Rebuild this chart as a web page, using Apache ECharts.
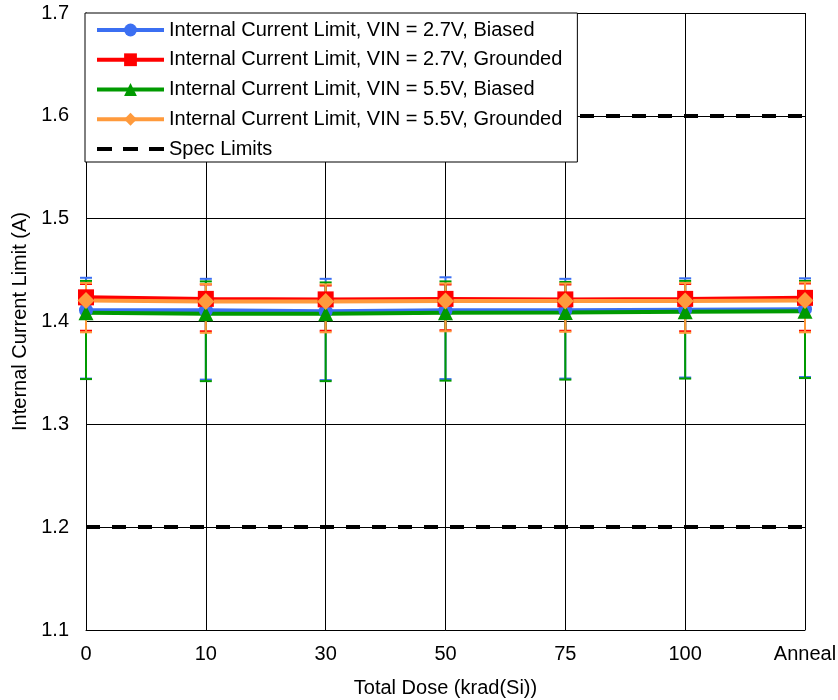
<!DOCTYPE html>
<html><head><meta charset="utf-8">
<script src="https://cdn.jsdelivr.net/npm/echarts@6/dist/echarts.min.js"></script>
<style>html,body{margin:0;padding:0;background:#fff}#c{width:838px;height:700px}</style>
</head><body><div id="c"></div>
<script>
const categories = ['0', '10', '30', '50', '75', '100', 'Anneal'];
const yTicks = [1.1, 1.2, 1.3, 1.4, 1.5, 1.6, 1.7];
const specLimits = [1.2, 1.6];

const blueVals   = [1.411, 1.411, 1.410, 1.411, 1.411, 1.4115, 1.412];
const redVals    = [1.4235, 1.422, 1.4215, 1.422, 1.4215, 1.422, 1.423];
const greenVals  = [1.4085, 1.4075, 1.4075, 1.4085, 1.4088, 1.4095, 1.410];
const orangeVals = [1.4205, 1.4195, 1.4195, 1.420, 1.420, 1.420, 1.4205];

const blueHigh   = [1.4425, 1.4415, 1.4415, 1.443, 1.4415, 1.442, 1.442];
const blueLow    = [1.3445, 1.3435, 1.343, 1.344, 1.3445, 1.3455, 1.346];
const redHigh    = [1.4365, 1.436, 1.435, 1.436, 1.436, 1.4365, 1.437];
const redLow     = [1.391, 1.3905, 1.391, 1.3915, 1.391, 1.3905, 1.391];
const greenHigh  = [1.4395, 1.439, 1.438, 1.439, 1.4385, 1.4395, 1.4395];
const greenLow   = [1.344, 1.342, 1.342, 1.3425, 1.3435, 1.3445, 1.345];
const orangeHigh = [1.4375, 1.4365, 1.436, 1.437, 1.437, 1.4375, 1.438];
const orangeLow  = [1.3895, 1.389, 1.3895, 1.3905, 1.39, 1.389, 1.3895];

const names = [
  'Internal Current Limit, VIN = 2.7V, Biased',
  'Internal Current Limit, VIN = 2.7V, Grounded',
  'Internal Current Limit, VIN = 5.5V, Biased',
  'Internal Current Limit, VIN = 5.5V, Grounded'
];
const colors = ['#3b6ff2', '#ff0000', '#009a00', '#ff9a3c'];
const symbols = ['circle', 'rect', 'triangle', 'diamond'];
const symbolSizes = [14, 16, 15, 17];
const vals = [blueVals, redVals, greenVals, orangeVals];
const highs = [blueHigh, redHigh, greenHigh, orangeHigh];
const lows = [blueLow, redLow, greenLow, orangeLow];

const FONT = 'Arial, "Liberation Sans", sans-serif';

const series = [];
// Error bars
for (let s = 0; s < 4; s++) {
  series.push({
    type: 'custom',
    name: names[s] + ' err',
    z: 1,
    clip: false,
    silent: true,
    data: categories.map((c, i) => [i, highs[s][i], lows[s][i]]),
    encode: { x: 0, y: [1, 2] },
    renderItem: function (params, api) {
      const hi = api.coord([api.value(0), api.value(1)]);
      const lo = api.coord([api.value(0), api.value(2)]);
      const hw = 6;
      const st = { stroke: colors[s], lineWidth: 2 };
      return {
        type: 'group',
        children: [
          { type: 'line', shape: { x1: hi[0], y1: hi[1], x2: lo[0], y2: lo[1] }, style: st },
          { type: 'line', shape: { x1: hi[0] - hw, y1: hi[1], x2: hi[0] + hw, y2: hi[1] }, style: st },
          { type: 'line', shape: { x1: lo[0] - hw, y1: lo[1], x2: lo[0] + hw, y2: lo[1] }, style: st }
        ]
      };
    }
  });
}
// Spec limits
series.push({
  type: 'line',
  name: 'Spec Limits',
  data: [],
  symbol: 'none',
  z: 1.5,
  lineStyle: { color: '#000', width: 4, type: [15, 11] },
  itemStyle: { color: '#000', opacity: 0 },
  markLine: {
    silent: true,
    symbol: ['none', 'none'],
    label: { show: false },
    lineStyle: { color: '#000', width: 4, type: [14, 12], opacity: 1 },
    data: specLimits.map(v => ({ yAxis: v }))
  }
});
// Main lines
for (let s = 0; s < 4; s++) {
  series.push({
    type: 'line',
    name: names[s],
    data: vals[s],
    z: 3,
    symbol: symbols[s],
    symbolSize: symbolSizes[s],
    showAllSymbol: true,
    lineStyle: { color: colors[s], width: 4 },
    itemStyle: { color: colors[s] }
  });
}

const chart = echarts.init(document.getElementById('c'), null, { renderer: 'canvas' });
chart.setOption({
  animation: false,
  backgroundColor: '#fff',
  textStyle: { fontFamily: FONT },
  grid: { left: 86, right: 33, top: 13, bottom: 70, containLabel: false, outerBoundsMode: 'none' },
  legend: {
    data: [names[0], names[1], names[2], names[3], 'Spec Limits'],
    orient: 'vertical',
    left: 85,
    top: 13,
    padding: [7, 15, 3, 10],
    itemWidth: 67,
    itemHeight: 16,
    itemGap: 9.75,
    backgroundColor: '#fff',
    borderColor: '#000',
    borderWidth: 1,
    borderRadius: 0,
    z: 10,
    lineStyle: { width: 4 },
    textStyle: { fontSize: 20, lineHeight: 20, color: '#000', fontFamily: FONT }
  },
  xAxis: {
    type: 'category',
    data: categories,
    boundaryGap: false,
    name: 'Total Dose (krad(Si))',
    nameLocation: 'middle',
    nameGap: 48,
    nameTextStyle: { fontSize: 20, color: '#000', fontFamily: FONT },
    axisLine: { lineStyle: { color: '#000', width: 1 } },
    axisTick: { show: false },
    axisLabel: { fontSize: 20, color: '#000', margin: 14, fontFamily: FONT },
    splitLine: { show: true, lineStyle: { color: '#000', width: 1 } }
  },
  yAxis: {
    type: 'value',
    min: yTicks[0],
    max: yTicks[yTicks.length - 1],
    interval: 0.1,
    name: 'Internal Current Limit (A)',
    nameLocation: 'middle',
    nameGap: 52,
    nameTextStyle: { fontSize: 20, color: '#000', fontFamily: FONT },
    axisLine: { show: true, lineStyle: { color: '#000', width: 1 } },
    axisTick: { show: false },
    axisLabel: { fontSize: 20, color: '#000', margin: 17, fontFamily: FONT,
      formatter: v => v.toFixed(1) },
    splitLine: { show: true, lineStyle: { color: '#000', width: 1 } }
  },
  series: series
});
</script>
</body></html>
